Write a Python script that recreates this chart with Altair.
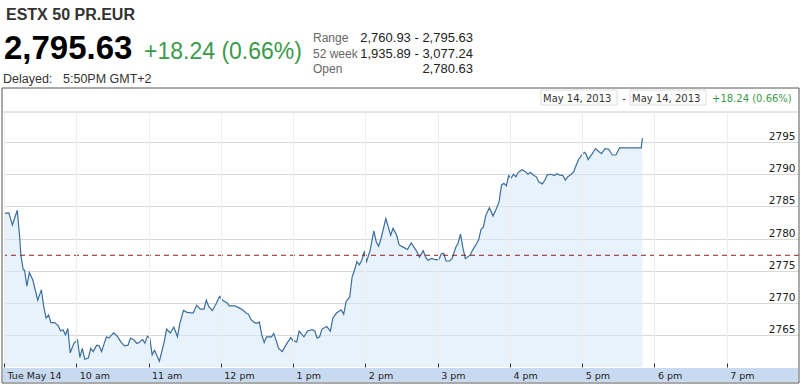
import altair as alt
import pandas as pd

# ---------------- data ----------------
times = [
    "09:00", "09:04", "09:07", "09:11", "09:13", "09:14", "09:16", "09:17", "09:19", "09:21",
    "09:24", "09:28", "09:31", "09:33", "09:35", "09:37", "09:39", "09:42", "09:45", "09:47",
    "09:49", "09:51", "09:53", "09:55", "09:58", "10:01", "10:03", "10:05", "10:07", "10:10",
    "10:12", "10:14", "10:17", "10:19", "10:21", "10:25", "10:27", "10:31", "10:34", "10:37",
    "10:40", "10:43", "10:45", "10:48", "10:50", "10:52", "10:55", "10:57", "10:59", "11:01",
    "11:03", "11:05", "11:09",
    "11:13", "11:15", "11:18", "11:21", "11:24", "11:26", "11:29", "11:32", "11:37", "11:40",
    "11:43", "11:46", "11:48", "11:50", "11:53", "11:56", "11:59", "12:02", "12:05", "12:07",
    "12:12", "12:15", "12:18", "12:21", "12:23", "12:25", "12:28", "12:30", "12:32", "12:34",
    "12:36", "12:38", "12:42", "12:44", "12:46", "12:48", "12:51", "12:54", "12:58", "13:00",
    "13:03", "13:05", "13:09", "13:12", "13:16", "13:18", "13:20", "13:22", "13:24",
    "13:28", "13:31", "13:33", "13:36", "13:40", "13:42", "13:44", "13:47", "13:49", "13:51",
    "13:53", "13:55", "13:57", "13:59", "14:01", "14:04", "14:07", "14:09", "14:11", "14:13",
    "14:17", "14:19", "14:21", "14:23", "14:26", "14:28", "14:31", "14:35", "14:38", "14:42",
    "14:45", "14:48", "14:50", "14:52", "14:55", "14:58", "15:01", "15:03", "15:05", "15:07",
    "15:10", "15:12", "15:15", "15:17", "15:19", "15:21", "15:23", "15:27", "15:29", "15:32",
    "15:34", "15:36", "15:38", "15:40", "15:43",
    "15:46", "15:48", "15:51", "15:53", "15:55", "15:57", "15:59", "16:01", "16:03", "16:05",
    "16:07", "16:10", "16:13", "16:15", "16:17", "16:20", "16:22", "16:24", "16:27", "16:29",
    "16:31", "16:34", "16:37", "16:39", "16:41", "16:44", "16:46", "16:48", "16:51", "16:53",
    "16:55", "16:57", "17:00", "17:02", "17:03", "17:05", "17:08", "17:11", "17:14", "17:16",
    "17:19", "17:22", "17:25", "17:28", "17:31", "17:36", "17:49", "17:50",
]
values = [
    2783.9, 2784.0, 2782.1, 2784.4, 2780.3, 2777.4, 2775.1, 2775.1, 2772.6, 2774.7,
    2773.5, 2770.4, 2772.0, 2769.4, 2767.6, 2768.1, 2766.9, 2766.9, 2766.4, 2765.6,
    2765.8, 2765.0, 2766.0, 2762.2, 2763.7, 2764.2, 2761.5, 2762.9, 2761.2, 2761.4,
    2762.9, 2762.4, 2763.4, 2763.3, 2762.4, 2764.7, 2764.5, 2765.3, 2764.8, 2763.9,
    2763.3, 2763.4, 2764.5, 2764.2, 2763.7, 2763.8, 2764.3, 2763.7, 2764.8, 2764.5,
    2761.9, 2762.6, 2760.9,
    2763.9, 2765.9, 2765.3, 2766.2, 2764.7, 2766.8, 2768.8, 2768.5, 2768.4, 2769.6,
    2769.0, 2769.0, 2770.4, 2769.4, 2768.8, 2769.8, 2771.0, 2770.3, 2770.0, 2769.5,
    2769.5, 2769.2, 2768.9, 2768.4, 2768.2, 2767.4, 2766.9, 2766.8, 2767.0, 2765.0,
    2763.8, 2764.7, 2764.7, 2765.2, 2764.1, 2762.9, 2762.4, 2763.4, 2764.6, 2764.1,
    2763.9, 2765.6, 2764.7, 2765.6, 2765.8, 2765.6, 2764.5, 2764.7, 2765.9,
    2766.3, 2765.6, 2767.6, 2768.4, 2768.9, 2768.2, 2770.2, 2770.9, 2774.0, 2775.1,
    2776.4, 2775.9, 2776.6, 2777.9, 2776.4, 2778.2, 2781.2, 2779.5, 2778.8, 2780.0,
    2783.1, 2781.8, 2780.5, 2781.6, 2780.5, 2779.0, 2778.7, 2778.3, 2779.3, 2778.2,
    2777.1, 2778.1, 2777.1, 2776.6, 2776.9, 2776.7, 2776.7, 2777.6, 2777.7, 2776.5,
    2776.5, 2776.9, 2778.6, 2779.3, 2780.7, 2778.5, 2776.9, 2777.4, 2778.2, 2779.1,
    2779.8, 2781.4, 2781.8, 2783.6, 2784.8,
    2783.5, 2784.3, 2785.7, 2788.3, 2788.6, 2788.2, 2789.8, 2789.4, 2790.0, 2789.6,
    2790.3, 2790.7, 2790.4, 2790.0, 2790.3, 2789.8, 2789.6, 2788.8, 2788.5, 2789.1,
    2789.9, 2790.0, 2789.8, 2790.1, 2789.9, 2789.8, 2789.1, 2789.6, 2790.0, 2790.4,
    2791.4, 2792.3, 2793.1, 2793.4, 2793.2, 2792.3, 2793.1, 2794.0, 2793.5, 2793.2,
    2794.0, 2793.9, 2793.0, 2793.0, 2794.1, 2794.1, 2794.1, 2795.63,
]
prev_close = [2777.39]
y_ticks = [2765, 2770, 2775, 2780, 2785, 2790, 2795]
hour_ticks = list(range(9, 20))

title_text = "ESTX 50 PR.EUR"
price_text = "2,795.63"
change_text = "+18.24 (0.66%)"
delayed_label = "Delayed:"
delayed_time = "5:50PM GMT+2"
stat_labels = ["Range", "52 week", "Open"]
stat_values = ["2,760.93 - 2,795.63", "1,935.89 - 3,077.24", "2,780.63"]
date_from = "May 14, 2013"
date_to = "May 14, 2013"

# ---------------- build ----------------
df = pd.DataFrame({"time": times, "value": values})
df["hour"] = [int(t[:2]) + int(t[3:]) / 60 for t in times]

W, H = 795, 257
GREEN = "#3a9a4a"
xs = alt.Scale(domain=[9, 20], nice=False)
ys = alt.Scale(domain=[2760, 2800], nice=False, zero=False)

label_expr = ("datum.value == 9 ? 'Tue May 14' : datum.value < 12 ? datum.value + ' am' : "
              "datum.value == 12 ? '12 pm' : (datum.value - 12) + ' pm'")

x_axis = alt.Axis(values=hour_ticks, labelExpr=label_expr, orient="bottom", offset=-4,
                  tickSize=4, tickColor="#333333", domain=False, grid=True,
                  gridColor="#eeeeee", labelAlign="left", labelBaseline="alphabetic",
                  labelPadding=11, labelOffset=3, labelFont="DejaVu Sans", labelFontSize=9.5,
                  labelColor="#222222", title=None, zindex=1)
y_axis = alt.Axis(values=y_ticks, format="d", orient="right", grid=True, gridColor="#d9d9d9",
                  ticks=False, tickSize=0, domain=False, labelAlign="right",
                  labelBaseline="alphabetic", labelPadding=-4, labelOffset=-2.5,
                  labelFont="DejaVu Sans", labelFontSize=10.5, labelColor="#222222",
                  title=None)

dummy = pd.DataFrame({"d": [0]})


def txt(s, x, y, size, color="#222222", align="left", weight="normal",
        font="Liberation Sans"):
    return alt.Chart(pd.DataFrame({"t": [s]})).mark_text(
        align=align, baseline="alphabetic", fontSize=size, color=color,
        fontWeight=weight, font=font
    ).encode(x=alt.value(x), y=alt.value(y), text="t:N")


def box(x0, x1, y0, y1, stroke, fill="white", fo=1.0):
    return alt.Chart(dummy).mark_rect(fill=fill, fillOpacity=fo, stroke=stroke,
                                      strokeWidth=1).encode(
        x=alt.value(x0), x2=alt.value(x1), y=alt.value(y0), y2=alt.value(y1))


band = alt.Chart(dummy).mark_rect(color="#c8daf0").encode(
    x=alt.value(-1), x2=alt.value(794), y=alt.value(258), y2=alt.value(272))

area = alt.Chart(df).mark_area(color="#d3e7f8", opacity=0.55).encode(
    x=alt.X("hour:Q", scale=xs, axis=x_axis),
    y=alt.Y("value:Q", scale=ys, axis=y_axis, stack=None))
line = alt.Chart(df).mark_line(color="#3b6e9d", strokeWidth=1.2).encode(
    x="hour:Q", y="value:Q")
close_rule = alt.Chart(pd.DataFrame({"v": prev_close})).mark_rule(
    color="#8b1e1e", strokeDash=[5, 4], strokeWidth=1).encode(y="v:Q")

top_rule = alt.Chart(dummy).mark_rule(color="#cccccc").encode(
    x=alt.value(-1), x2=alt.value(794), y=alt.value(2))

layers = [band, area, line, close_rule, top_rule,
          box(537, 613, -20, -5, "#dddddd"),
          box(626, 702, -20, -5, "#dddddd"),
          txt(date_from, 539, -8.5, 10, "#333333", font="DejaVu Sans"),
          txt("-", 620, -8.5, 10, "#333333", align="center", font="DejaVu Sans"),
          txt(date_to, 628, -8.5, 10, "#333333", font="DejaVu Sans"),
          txt(change_text, 708, -8.5, 10, GREEN, font="DejaVu Sans"),
          txt(title_text, 2, -90, 16, "#333333", weight="bold"),
          txt(price_text, 0, -50.7, 33, "#000000", weight="bold"),
          txt(change_text, 140, -50.7, 23, GREEN),
          txt(delayed_label, -1, -27.5, 12.5, "#333333"),
          txt(delayed_time, 59, -27.5, 12.5, "#333333")]
for i, (lab, val) in enumerate(zip(stat_labels, stat_values)):
    yy = -68.3 + i * 15.8
    layers.append(txt(lab, 309, yy, 12, "#666666"))
    layers.append(txt(val, 469, yy, 13, "#222222", align="right"))
layers.append(box(-2, 795, -22, 273, "#555555", fo=0))

chart = alt.layer(*layers).properties(
    width=W, height=H,
    padding={"left": 4, "top": 110, "right": 2, "bottom": 18},
    autosize=alt.AutoSizeParams(type="none"),
    background="white",
).configure_view(stroke=None)

chart.save("out.html", embed_options={"renderer": "svg", "actions": False})
